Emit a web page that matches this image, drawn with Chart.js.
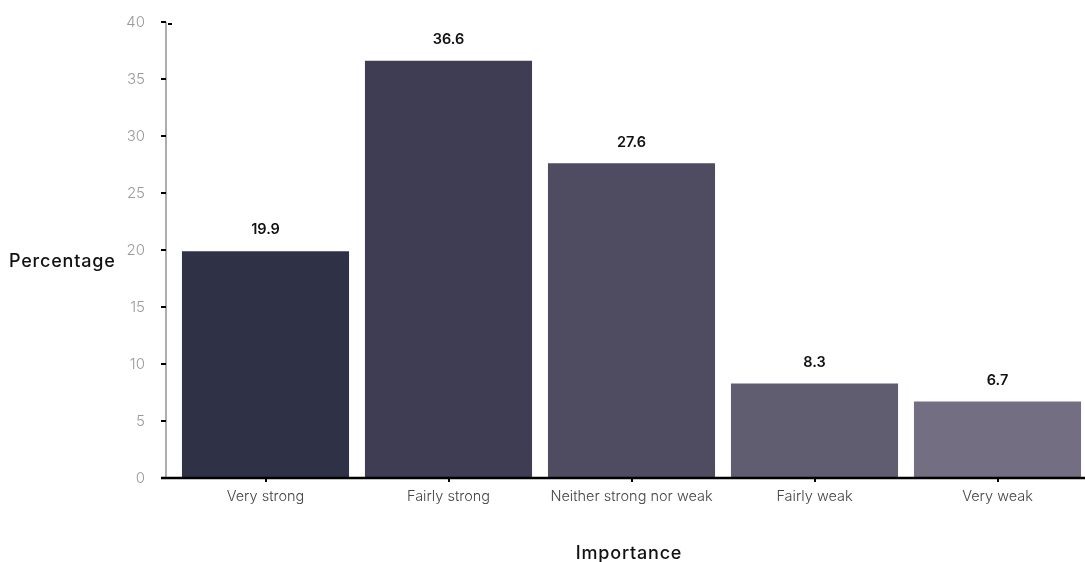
<!DOCTYPE html>
<html lang="en">
<head>
<meta charset="UTF-8">
<title>Importance</title>
<script src="https://cdn.jsdelivr.net/npm/chart.js"></script>
<style>
html, body { margin: 0; padding: 0; overflow: hidden; background: #fff; }
#wrap { width: 1095px; height: 562px; }
</style>
</head>
<body>
<div id="wrap"><canvas id="myChart"></canvas></div>
<script>
// data
const categories = ['Very strong', 'Fairly strong', 'Neither strong nor weak', 'Fairly weak', 'Very weak'];
const percentages = [19.9, 36.6, 27.6, 8.3, 6.7];
const barColors = ['#2f3147', '#3e3d54', '#4f4c62', '#615d71', '#736e82'];
const yTicks = [0, 5, 10, 15, 20, 25, 30, 35, 40];

const FONT = 'Inter, "Noto Sans", sans-serif';

// custom axes, value labels and axis titles
const decor = {
  id: 'decor',
  afterDraw(chart) {
    const ctx = chart.ctx;
    const area = chart.chartArea;
    const y = chart.scales.y;
    const x = chart.scales.x;
    const axisX = area.left - 8;
    ctx.save();

    // y axis line
    ctx.strokeStyle = '#777';
    ctx.lineWidth = 1.2;
    ctx.beginPath();
    ctx.moveTo(axisX, y.getPixelForValue(40));
    ctx.lineTo(axisX, y.getPixelForValue(0));
    ctx.stroke();

    // y tick marks
    ctx.strokeStyle = '#000';
    ctx.lineWidth = 2;
    yTicks.forEach(v => {
      const py = Math.round(y.getPixelForValue(v));
      ctx.beginPath();
      ctx.moveTo(axisX - 5, py);
      ctx.lineTo(axisX, py);
      ctx.stroke();
    });
    const topY = Math.round(y.getPixelForValue(40)) + 2;
    ctx.beginPath();
    ctx.moveTo(axisX + 2, topY);
    ctx.lineTo(axisX + 6, topY);
    ctx.stroke();

    // x axis line
    const baseY = Math.round(y.getPixelForValue(0));
    ctx.lineWidth = 2.5;
    ctx.beginPath();
    ctx.moveTo(axisX - 5, baseY);
    ctx.lineTo(area.right, baseY);
    ctx.stroke();

    // x tick marks
    ctx.lineWidth = 2;
    categories.forEach((c, i) => {
      const px = Math.round(x.getPixelForValue(i));
      ctx.beginPath();
      ctx.moveTo(px, baseY);
      ctx.lineTo(px, baseY + 4);
      ctx.stroke();
    });

    // value labels
    const meta = chart.getDatasetMeta(0);
    ctx.fillStyle = '#111';
    ctx.font = '600 14.5px ' + FONT;
    ctx.textAlign = 'center';
    ctx.textBaseline = 'middle';
    meta.data.forEach((bar, i) => {
      ctx.fillText(percentages[i].toFixed(1), bar.x, bar.y - 21);
    });

    // axis titles
    ctx.font = '500 18px ' + FONT;
    ctx.letterSpacing = '0.8px';
    ctx.fillStyle = '#111';
    ctx.textBaseline = 'alphabetic';
    ctx.textAlign = 'left';
    ctx.fillText('Percentage', 9, 267);
    ctx.textAlign = 'center';
    ctx.fillText('Importance', 629, 559);
    ctx.restore();
  }
};

const ctx = document.getElementById('myChart').getContext('2d');
new Chart(ctx, {
  type: 'bar',
  data: {
    labels: categories,
    datasets: [{
      label: 'Percentage',
      data: percentages,
      backgroundColor: barColors,
      borderWidth: 0,
      categoryPercentage: 1,
      barPercentage: 0.913
    }]
  },
  options: {
    responsive: true,
    maintainAspectRatio: false,
    animation: false,
    layout: { padding: { top: 22, right: 6, left: 0, bottom: 0 } },
    plugins: {
      legend: { display: false },
      tooltip: { enabled: false }
    },
    scales: {
      x: {
        grid: { display: false, drawTicks: false },
        border: { display: false },
        ticks: {
          color: '#444',
          padding: 10,
          maxRotation: 0,
          autoSkip: false,
          font: { family: FONT, size: 14.5, weight: 300 }
        },
        afterFit(scale) { scale.height = 84; }
      },
      y: {
        min: 0,
        max: 40,
        grid: { display: false, drawTicks: false },
        border: { display: false },
        ticks: {
          stepSize: 5,
          color: '#9a9a9a',
          padding: 29,
          font: { family: FONT, size: 15, weight: 300 }
        },
        afterFit(scale) {
          scale.width = 174;
          scale.paddingTop = 0;
          scale.paddingBottom = 0;
        }
      }
    }
  },
  plugins: [decor]
});
</script>
</body>
</html>
